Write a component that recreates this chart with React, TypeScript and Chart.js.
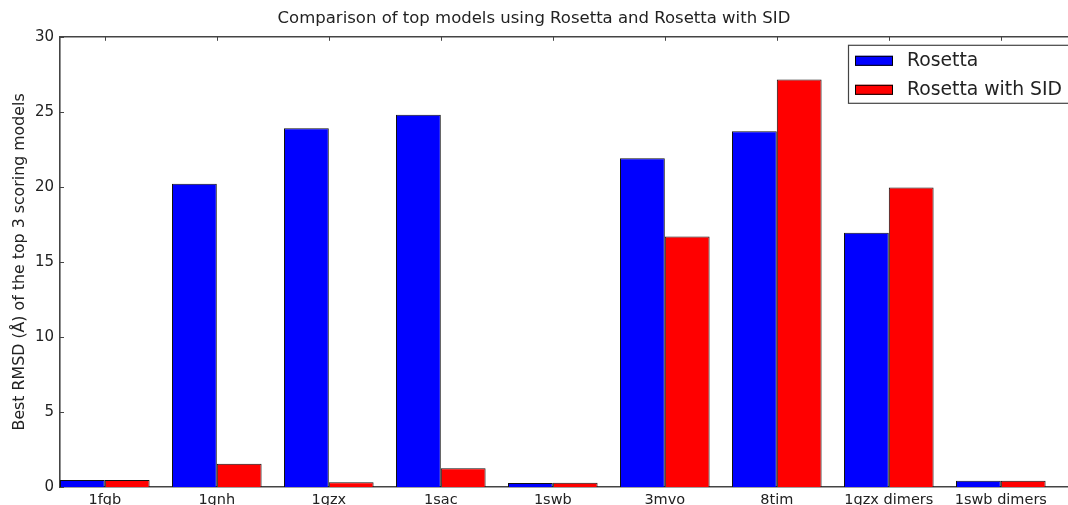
import React, { useEffect, useRef } from "react";
import { Chart, registerables } from "chart.js";

Chart.register(...registerables);

const categories = ["1fgb", "1gnh", "1gzx", "1sac", "1swb", "3mvo", "8tim", "1gzx dimers", "1swb dimers"];
const rosetta = [0.47, 20.2, 23.9, 24.8, 0.27, 21.9, 23.7, 16.95, 0.42];
const rosettaSID = [0.47, 1.55, 0.31, 1.25, 0.28, 16.7, 27.15, 19.95, 0.42];
const yTicks = [0, 5, 10, 15, 20, 25, 30];

const TITLE = "Comparison of top models using Rosetta and Rosetta with SID";
const Y_TITLE = "Best RMSD (\u00C5) of the top 3 scoring models";
const FONT = "'DejaVu Sans', sans-serif";

const frameAndTicks = {
  id: "frameAndTicks",
  afterDraw(chart: any) {
    const { ctx, chartArea } = chart;
    const x = chart.scales.x;
    const y = chart.scales.y;
    ctx.save();
    ctx.strokeStyle = "#444";
    ctx.lineWidth = 1.6;
    ctx.beginPath();
    ctx.moveTo(chartArea.left, chartArea.top);
    ctx.lineTo(chartArea.right, chartArea.top);
    ctx.stroke();
    ctx.lineWidth = 1;
    ctx.strokeStyle = "#444";
    ctx.beginPath();
    categories.forEach((_, i) => {
      const px = Math.round(x.getPixelForValue(i)) + 0.5;
      ctx.moveTo(px, chartArea.bottom);
      ctx.lineTo(px, chartArea.bottom - 4);
      ctx.moveTo(px, chartArea.top);
      ctx.lineTo(px, chartArea.top + 4);
    });
    yTicks.forEach((v) => {
      const py = Math.round(y.getPixelForValue(v)) + 0.5;
      ctx.moveTo(chartArea.left, py);
      ctx.lineTo(chartArea.left + 4, py);
    });
    ctx.stroke();
    ctx.restore();
  },
};

const boxLegend = {
  id: "boxLegend",
  afterDraw(chart: any) {
    const { ctx, chartArea } = chart;
    const left = chartArea.right - 220;
    const top = chartArea.top + 8;
    ctx.save();
    ctx.fillStyle = "#fff";
    ctx.fillRect(left, top, 240, 58);
    ctx.strokeStyle = "#444";
    ctx.lineWidth = 1.2;
    ctx.strokeRect(left + 0.5, top + 0.5, 240, 58);
    ctx.font = `18.8px ${FONT}`;
    ctx.textBaseline = "middle";
    chart.data.datasets.forEach((ds: any, i: number) => {
      const cy = top + 16 + i * 29;
      ctx.fillStyle = ds.backgroundColor;
      ctx.fillRect(left + 7, cy - 5, 38, 10);
      ctx.strokeStyle = "#000";
      ctx.lineWidth = 1;
      ctx.strokeRect(left + 7.5, cy - 4.5, 37, 9);
      ctx.fillStyle = "#222";
      ctx.fillText(ds.label, left + 59, cy);
    });
    ctx.restore();
  },
};

export default function App() {
  const ref = useRef<HTMLCanvasElement>(null);
  useEffect(() => {
    if (!ref.current) return;
    const chart = new Chart(ref.current, {
      type: "bar",
      data: {
        datasets: [
          {
            label: "Rosetta",
            data: rosetta.map((v, i) => ({ x: i, y: v })),
            backgroundColor: "#0000ff",
            borderColor: "#111",
            borderWidth: 1,
          },
          {
            label: "Rosetta with SID",
            data: rosettaSID.map((v, i) => ({ x: i, y: v })),
            backgroundColor: "#ff0000",
            borderColor: "#111",
            borderWidth: 1,
          },
        ],
      },
      options: {
        responsive: false,
        animation: false,
        devicePixelRatio: 1,
        layout: { padding: { left: 0, right: 0, top: 0, bottom: 0 } },
        datasets: { bar: { categoryPercentage: 0.8, barPercentage: 1.0 } },
        plugins: {
          legend: { display: false },
          tooltip: { enabled: false },
          title: {
            display: true,
            text: TITLE,
            color: "#222",
            font: { family: FONT, size: 16.5, weight: "normal" },
            padding: { top: 9, bottom: 8 },
          },
        },
        scales: {
          x: {
            type: "linear",
            min: -0.4,
            max: 8.6,
            offset: false,
            grid: { display: false, drawTicks: false },
            border: { display: true, color: "#444", width: 1.6 },
            afterBuildTicks: (scale: any) => {
              scale.ticks = categories.map((_, i) => ({ value: i }));
            },
            afterFit: (scale: any) => {
              scale.height = 18;
            },
            ticks: {
              autoSkip: false,
              maxRotation: 0,
              padding: 5,
              color: "#222",
              font: { family: FONT, size: 14.5 },
              callback: (v: any) => categories[v] ?? "",
            },
          },
          y: {
            min: 0,
            max: 30,
            grid: { display: false, drawTicks: false },
            border: { display: true, color: "#444", width: 1.6 },
            afterFit: (scale: any) => {
              scale.width = 60;
            },
            ticks: {
              stepSize: 5,
              padding: 6,
              color: "#222",
              font: { family: FONT, size: 15 },
            },
            title: {
              display: true,
              text: Y_TITLE,
              color: "#222",
              font: { family: FONT, size: 15.8 },
              padding: { top: 10, bottom: 0 },
            },
          },
        },
      },
      plugins: [frameAndTicks, boxLegend],
    });
    return () => chart.destroy();
  }, []);
  return (
    <div style={{ position: "fixed", left: 0, top: 0, width: 1068, height: 505, background: "#fff" }}>
      <canvas ref={ref} width={1068} height={505} style={{ display: "block" }} />
    </div>
  );
}
